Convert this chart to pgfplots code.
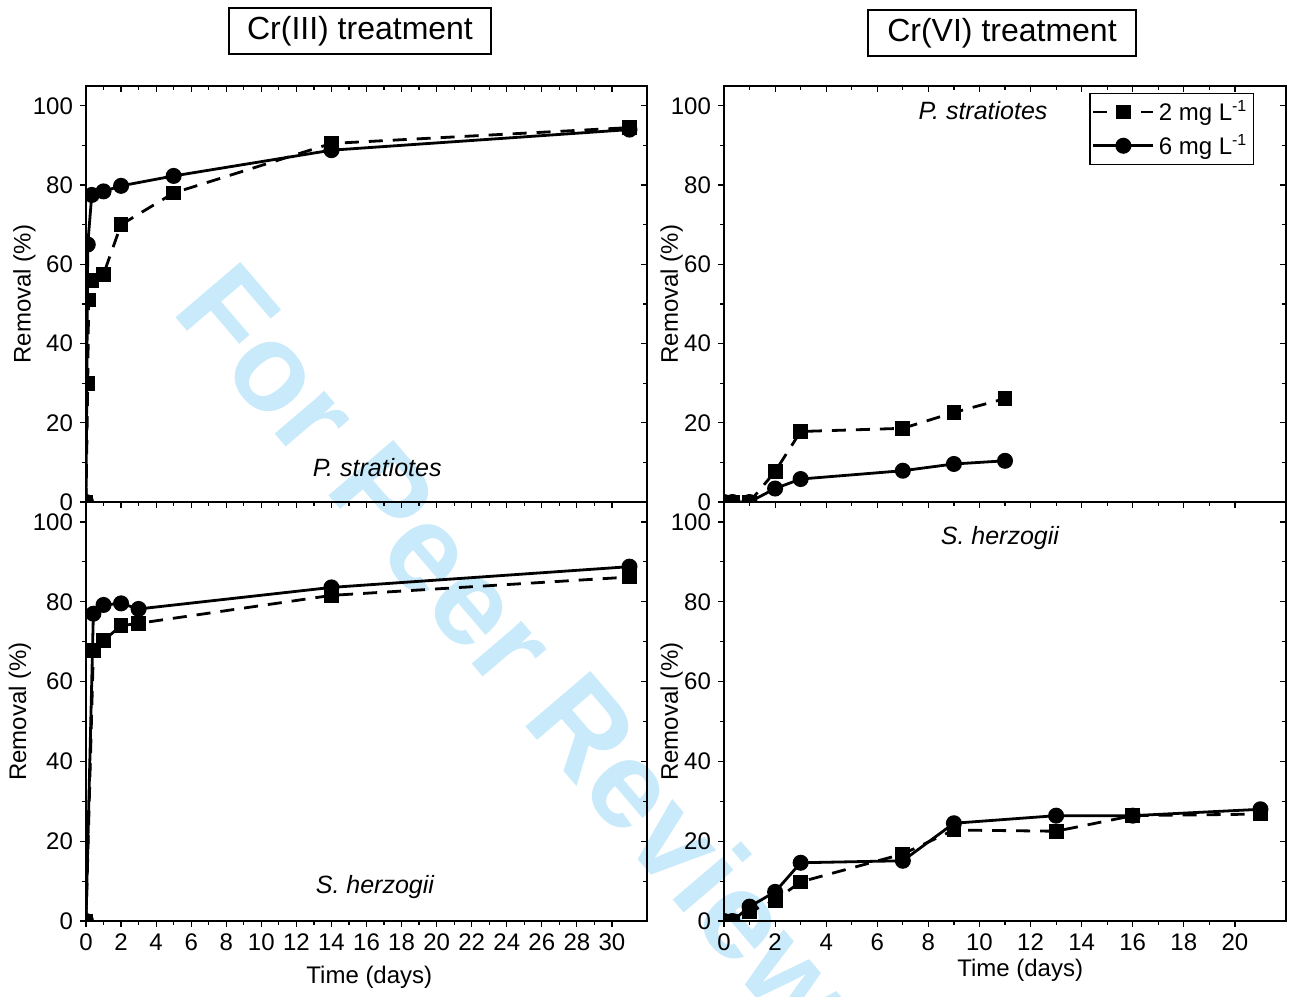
\documentclass[border=0pt]{standalone}
\usepackage{fontspec}
\setmainfont{Liberation Sans}
\usepackage{pgfplots}
\pgfplotsset{compat=1.18}

\definecolor{wm}{RGB}{200,234,250}
\tikzset{plabel/.style={font=\fontsize{12.5}{14}\selectfont\itshape}}

\pgfplotsset{
  panel/.style={
    scale only axis,
    ymin=0, ymax=105,
    ytick={0,20,...,100},
    minor y tick num=1,
    minor x tick num=1,
    xtick pos=bottom, ytick pos=left,
    tick align=outside,
    major tick length=3pt,
    minor tick length=1.8pt,
    every tick/.style={black, line width=0.6pt},
    axis line style={line width=0.8pt},
    tick label style={font=\fontsize{12}{14}\selectfont},
    label style={font=\fontsize{12}{14}\selectfont},
    /pgf/number format/assume math mode=true,
    clip marker paths=true,
    ylabel={Removal (\%)},
  },
  mirror/.style={xtick pos=top, ytick pos=right, tick align=inside,
    xticklabels={}, yticklabels={}, xlabel={}, ylabel={}},
  leftcol/.style={panel, width=280.5pt, xmin=0, xmax=32, xtick={0,2,...,30}},
  rightcol/.style={panel, width=281pt, xmin=0, xmax=22, xtick={0,2,...,20}},
  tl/.style={leftcol, at={(43pt,-43pt)}, anchor=north west, height=208pt},
  bl/.style={leftcol, at={(43pt,-251pt)}, anchor=north west, height=209.5pt},
  tr/.style={rightcol, at={(362pt,-43pt)}, anchor=north west, height=208pt},
  br/.style={rightcol, at={(362pt,-251pt)}, anchor=north west, height=209.5pt},
  s2/.style={black, line width=1.4pt, dash pattern=on 7pt off 5pt,
    mark=square*, mark size=3pt, mark options={solid}},
  s6/.style={black, line width=1.4pt, solid, mark=*, mark size=3.3pt},
}

\begin{document}
\begin{tikzpicture}
\useasboundingbox (0pt,0pt) rectangle (644.5pt,-498pt);

% watermark
\node[wm, rotate=-49.5, font=\fontsize{62}{66}\selectfont\bfseries] at (259pt,-325pt) {For Peer Review};

% titles
\node[draw, line width=0.6pt, minimum width=131pt, minimum height=23pt,
  font=\fontsize{16}{19}\selectfont] at (180pt,-15.5pt) {Cr(III) treatment};
\node[draw, line width=0.6pt, minimum width=134pt, minimum height=23pt,
  font=\fontsize{16}{19}\selectfont] at (501pt,-16.5pt) {Cr(VI) treatment};

% Cr(III), P. stratiotes
\begin{axis}[tl, mirror]\end{axis}
\begin{axis}[tl, xticklabels={},
  ylabel style={at={(axis description cs:-0.11,0.5)}, anchor=center}]
\addplot[s2] coordinates {(0,0) (0.1,30) (0.15,51) (0.33,56) (1,57.5) (2,70) (5,78) (14,90.5) (31,94.5)};
\addplot[s6] coordinates {(0,0) (0.1,65) (0.33,77.5) (1,78.4) (2,79.8) (5,82.3) (14,88.8) (31,94)};
\node[plabel] at (rel axis cs:0.519,0.084) {P. stratiotes};
\end{axis}

% Cr(III), S. herzogii
\begin{axis}[bl, mirror]\end{axis}
\begin{axis}[bl, xlabel={Time (days)},
  xlabel style={at={(axis description cs:0.505,-0.134)}, anchor=center},
  ylabel style={at={(axis description cs:-0.118,0.5)}, anchor=center}]
\addplot[s2] coordinates {(0,0) (0.42,67.7) (1,70.3) (2,74) (3,74.6) (14,81.6) (31,86.2)};
\addplot[s6] coordinates {(0,0) (0.42,77) (1,79.2) (2,79.6) (3,78.2) (14,83.6) (31,88.8)};
\node[plabel] at (rel axis cs:0.515,0.081) {S. herzogii};
\end{axis}

% Cr(VI), P. stratiotes
\begin{axis}[tr, mirror]\end{axis}
\begin{axis}[tr, xticklabels={},
  ylabel style={at={(axis description cs:-0.093,0.5)}, anchor=center},
  legend style={at={(rel axis cs:0.943,0.983)}, anchor=north east,
    draw=black, line width=0.6pt, font=\fontsize{12}{14}\selectfont,
    inner xsep=1pt, inner ysep=1.5pt, row sep=1.5pt},
  legend cell align=left,
  legend image code/.code={\draw[mark repeat=2, mark phase=2, #1]
    plot coordinates {(0pt,0pt) (15pt,0pt) (30pt,0pt)};}]
\addplot[s2] coordinates {(0,0) (0.33,0) (1,0) (2,7.7) (3,17.8) (7,18.6) (9,22.6) (11,26.1)};
\addlegendentry{2 mg L\textsuperscript{-1}}
\addplot[s6] coordinates {(0,0) (0.33,0) (1,0) (2,3.4) (3,5.8) (7,7.9) (9,9.6) (11,10.4)};
\addlegendentry{6 mg L\textsuperscript{-1}}
\node[plabel] at (rel axis cs:0.461,0.94) {P. stratiotes};
\end{axis}

% Cr(VI), S. herzogii
\begin{axis}[br, mirror]\end{axis}
\begin{axis}[br, xlabel={Time (days)},
  xlabel style={at={(axis description cs:0.527,-0.117)}, anchor=center},
  ylabel style={at={(axis description cs:-0.093,0.5)}, anchor=center}]
\addplot[s2] coordinates {(0,0) (0.33,0) (1,2.3) (2,5.2) (3,9.8) (7,16.8) (9,22.8) (13,22.5) (16,26.4) (21,26.8)};
\addplot[s6] coordinates {(0,0) (0.33,0) (1,3.6) (2,7.3) (3,14.6) (7,15.1) (9,24.5) (13,26.4) (16,26.4) (21,28)};
\node[plabel] at (rel axis cs:0.491,0.914) {S. herzogii};
\end{axis}
\end{tikzpicture}
\end{document}
